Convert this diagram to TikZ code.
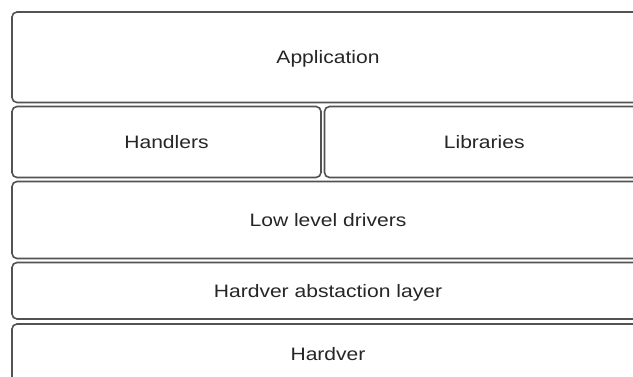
\documentclass[tikz,border=0pt]{standalone}
\usepackage{fontspec}
\setmainfont{Liberation Sans}[FakeStretch=1.17]
\begin{document}
\begin{tikzpicture}[x=1pt,y=-1pt,
  layer/.style={draw=black!68, line width=1.6pt, rounded corners=5pt, fill=white,
    inner sep=0pt, text height=12.9pt, text depth=0pt, text=black!85,
    font=\fontsize{18}{20}\selectfont}]
\useasboundingbox (0,0) rectangle (633,377);
\clip (0,0) rectangle (633,377);
\node[layer, minimum width=632pt, minimum height=90.5pt] (app) at (328,57.25) {Application};
\node[layer, minimum width=309pt, minimum height=71pt] (hand) at (166.5,142) {Handlers};
\node[layer, minimum width=319.5pt, minimum height=71pt] (lib) at (484.25,142) {Libraries};
\node[layer, minimum width=632pt, minimum height=77pt] (lld) at (328,220) {Low level drivers};
\node[layer, minimum width=632pt, minimum height=56.5pt] (hal) at (328,290.75) {Hardver abstaction layer};
\node[layer, minimum width=632pt, minimum height=61pt] (hw) at (328,354.5) {Hardver};
\end{tikzpicture}
\end{document}
